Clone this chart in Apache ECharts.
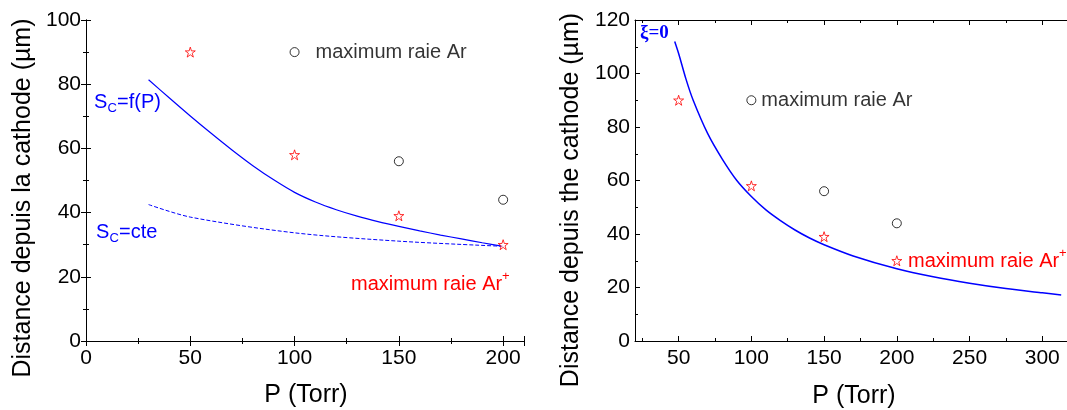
<!DOCTYPE html>
<html>
<head>
<meta charset="utf-8">
<script src="https://cdn.jsdelivr.net/npm/echarts@6/dist/echarts.min.js"></script>
<style>
html,body{margin:0;padding:0;background:#fff;}
#main{width:1067px;height:410px;}
</style>
</head>
<body>
<div id="main"></div>
<script>
// ---------- data ----------
// Left panel
const leftFitP = [30, 40, 50, 60, 70, 80, 90, 100, 110, 120, 130, 140, 150, 160, 170, 180, 190, 200];
const leftFitD = [81.4, 75.7, 70.1, 64.7, 59.5, 54.6, 50.2, 46.3, 43.3, 40.9, 38.9, 37.2, 35.7, 34.3, 33.0, 31.8, 30.6, 29.5];
const leftCteP = [30, 50, 100, 150, 200];
const leftCteD = [42.5, 38.6, 33.7, 31.1, 29.5];
// Right panel (xi = 0)
const rightFitP = [47.3, 50, 55, 60, 70, 80, 90, 100, 110, 120, 130, 140, 150, 170, 200, 225, 250, 275, 300, 313];
const rightFitD = [112, 107.5, 98, 90, 77.5, 68, 60, 54, 49, 45, 41.5, 38.5, 36, 31.8, 27, 24, 21.6, 19.6, 18, 17.2];
// Measured points (both panels)
const arP = [150, 200];
const arD = [56, 44];
const arPlusP = [50, 100, 150, 200];
const arPlusD = [90, 58, 39, 30];
// Legend symbol position (data coords)
const legendArP = [100];
const legendArD = [90];
// Tick values
const rightXMajor = [50, 100, 150, 200, 250, 300];
const rightXMinor = [25, 75, 125, 175, 225, 275];

const zip = (a, b) => a.map((v, i) => [v, b[i]]);

const FONT = "'Liberation Sans', Arial, sans-serif";
const BLUE = '#0000ff';
const RED = '#ff0000';
const STAR = 'path://M50,2 L61,36 L97,36 L68,57 L79,92 L50,71 L21,92 L32,57 L3,36 L39,36 Z';

const chart = echarts.init(document.getElementById('main'), null, {renderer: 'canvas'});

const baseLine = {show: true, lineStyle: {color: '#000', width: 1}};
const labelStyle = {color: '#000', fontSize: 21, fontFamily: FONT};

function stdX(grid, pos, showLabel, min, max, interval) {
  return {
    type: 'value', gridIndex: grid, position: pos, min: min, max: max, interval: interval,
    axisLine: baseLine,
    axisTick: {show: true, inside: true, length: 5, lineStyle: {color: '#000'}},
    minorTick: {show: true, splitNumber: 2, length: 3, lineStyle: {color: '#000'}},
    axisLabel: Object.assign({show: showLabel, margin: 7}, labelStyle),
    splitLine: {show: false}, minorSplitLine: {show: false}
  };
}
function stdY(grid, pos, showLabel, min, max, interval) {
  return {
    type: 'value', gridIndex: grid, position: pos, min: min, max: max, interval: interval,
    axisLine: baseLine,
    axisTick: {show: true, inside: true, length: 5, lineStyle: {color: '#000'}},
    minorTick: {show: true, splitNumber: 2, length: 3, lineStyle: {color: '#000'}},
    axisLabel: Object.assign({show: showLabel, margin: 5}, labelStyle),
    splitLine: {show: false}, minorSplitLine: {show: false}
  };
}
function customX(grid, pos, showLine, showLabel, values, len) {
  return {
    type: 'value', gridIndex: grid, position: pos, min: 20, max: 317,
    axisLine: {show: showLine, lineStyle: {color: '#000', width: 1}},
    axisTick: {show: true, inside: true, length: len, customValues: values, lineStyle: {color: '#000'}},
    axisLabel: Object.assign({show: showLabel, margin: 7, customValues: values}, labelStyle),
    splitLine: {show: false}
  };
}

const hollowCircle = {color: '#fff', borderColor: '#000', borderWidth: 1};
const hollowStar = {color: '#fff', borderColor: RED, borderWidth: 1};

function txt(x, y, text, size, color, extra) {
  return Object.assign({type: 'text', x: x, y: y, style: {
    text: text, font: size + 'px ' + FONT, fill: color, align: 'left', verticalAlign: 'middle'}}, extra || {});
}

const option = {
  backgroundColor: '#fff',
  animation: false,
  grid: [
    {left: 86, top: 20, width: 438, height: 321},
    {left: 635, top: 20, width: 433, height: 321}
  ],
  xAxis: [
    stdX(0, 'bottom', true, 0, 210, 50),
    stdX(0, 'top', false, 0, 210, 50),
    customX(1, 'bottom', true, true, rightXMajor, 5),
    customX(1, 'bottom', false, false, rightXMinor, 3),
    customX(1, 'top', true, false, rightXMajor, 5),
    customX(1, 'top', false, false, rightXMinor, 3)
  ],
  yAxis: [
    stdY(0, 'left', true, 0, 100, 20),
    stdY(0, 'right', false, 0, 100, 20),
    stdY(1, 'left', true, 0, 120, 20)
  ],
  series: [
    // ---- left panel ----
    {type: 'line', xAxisIndex: 0, yAxisIndex: 0, data: zip(leftFitP, leftFitD), smooth: 0.3,
     showSymbol: false, lineStyle: {color: BLUE, width: 1.2}, z: 2},
    {type: 'line', xAxisIndex: 0, yAxisIndex: 0, data: zip(leftCteP, leftCteD), smooth: 0.3,
     showSymbol: false, lineStyle: {color: BLUE, width: 1, type: [4, 2]}, z: 2},
    {type: 'scatter', xAxisIndex: 0, yAxisIndex: 0, data: zip(arP, arD), symbol: 'circle',
     symbolSize: 9, itemStyle: hollowCircle, z: 3},
    {type: 'scatter', xAxisIndex: 0, yAxisIndex: 0, data: zip(arPlusP, arPlusD), symbol: STAR,
     symbolSize: 10, itemStyle: hollowStar, z: 4},
    {type: 'scatter', xAxisIndex: 0, yAxisIndex: 0, data: zip(legendArP, legendArD), symbol: 'circle',
     symbolSize: 9, itemStyle: hollowCircle, z: 3,
     label: {show: true, position: 'right', distance: 16, formatter: 'maximum raie Ar',
             color: '#000', fontSize: 20, fontFamily: FONT}},
    // ---- right panel ----
    {type: 'line', xAxisIndex: 2, yAxisIndex: 2, data: zip(rightFitP, rightFitD), smooth: 0.25,
     showSymbol: false, lineStyle: {color: BLUE, width: 1.5}, z: 2},
    {type: 'scatter', xAxisIndex: 2, yAxisIndex: 2, data: zip(arP, arD), symbol: 'circle',
     symbolSize: 9, itemStyle: hollowCircle, z: 3},
    {type: 'scatter', xAxisIndex: 2, yAxisIndex: 2, data: zip(legendArP, legendArD), symbol: 'circle',
     symbolSize: 9, itemStyle: hollowCircle, z: 3,
     label: {show: true, position: 'right', distance: 5, formatter: 'maximum raie Ar',
             color: '#000', fontSize: 20, fontFamily: FONT}},
    {type: 'scatter', xAxisIndex: 2, yAxisIndex: 2, data: zip(arPlusP, arPlusD),
     symbol: STAR, symbolSize: 10, itemStyle: hollowStar, z: 4}
  ],
  graphic: [
    // axis titles
    {type: 'text', x: 23, y: 198, rotation: Math.PI / 2, style: {
      text: 'Distance depuis la cathode (µm)', font: '25px ' + FONT, fill: '#000',
      align: 'center', verticalAlign: 'middle'}},
    {type: 'text', x: 306, y: 395, style: {
      text: 'P (Torr)', font: '25px ' + FONT, fill: '#000', align: 'center', verticalAlign: 'middle'}},
    {type: 'text', x: 571, y: 200, rotation: Math.PI / 2, style: {
      text: 'Distance depuis the cathode (µm)', font: '25px ' + FONT, fill: '#000',
      align: 'center', verticalAlign: 'middle'}},
    {type: 'text', x: 854, y: 396, style: {
      text: 'P (Torr)', font: '25px ' + FONT, fill: '#000', align: 'center', verticalAlign: 'middle'}},
    // annotations left: S_C=f(P)
    txt(94, 102, 'S', 20, BLUE),
    txt(107.5, 108, 'C', 13, BLUE),
    txt(117, 102, '=f(P)', 20, BLUE),
    // S_C=cte
    txt(96, 232, 'S', 20, BLUE),
    txt(109.5, 238, 'C', 13, BLUE),
    txt(119, 232, '=cte', 20, BLUE),
    // maximum raie Ar+ (left)
    txt(351, 284, 'maximum raie Ar', 20, RED),
    txt(502, 276, '+', 13, RED),
    // maximum raie Ar+ (right, beside last star)
    txt(908, 261, 'maximum raie Ar', 20, RED),
    txt(1059, 253, '+', 13, RED),
    // xi = 0
    {type: 'text', x: 640, y: 33, style: {
      text: 'ξ=0', font: 'bold 19px "Liberation Serif", "Times New Roman", serif', fill: BLUE,
      align: 'left', verticalAlign: 'middle'}}
  ]
};

chart.setOption(option);
</script>
</body>
</html>
